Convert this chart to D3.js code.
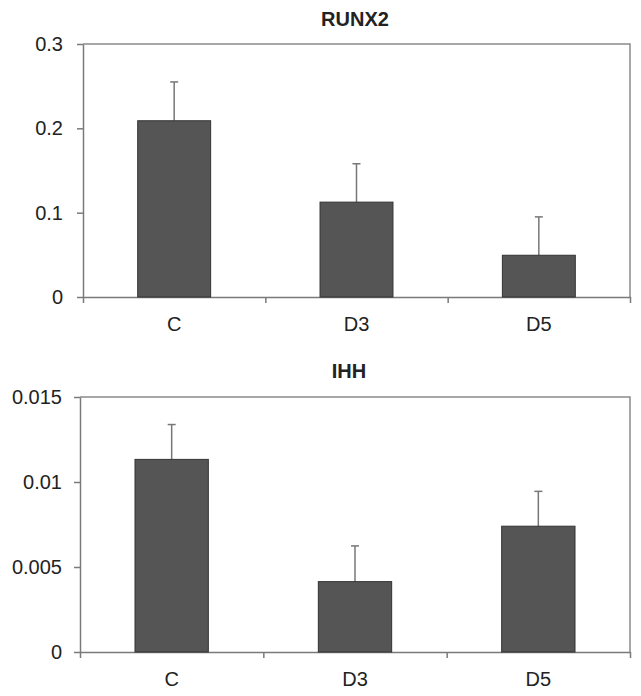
<!DOCTYPE html>
<html>
<head>
<meta charset="utf-8">
<script src="https://cdn.jsdelivr.net/npm/d3@7"></script>
<style>
	body { margin: 0; background: white; }
	text { font-family: 'Liberation Sans', Arial, sans-serif; fill: #222; }
</style>
</head>
<body>
<div id="chart"></div>
<script>
var categories = ['C', 'D3', 'D5'];

var runx2_values = [0.209, 0.1125, 0.0495];
var runx2_errors = [0.046, 0.0455, 0.0455];
var runx2_ticks = [0, 0.1, 0.2, 0.3];

var ihh_values = [0.01133, 0.00414, 0.0074];
var ihh_errors = [0.00205, 0.0021, 0.00205];
var ihh_ticks = [0, 0.005, 0.01, 0.015];

var svg = d3.select('#chart')
	.append('svg')
		.attr('width', 641)
		.attr('height', 696);

function draw_panel(opts) {
	var left = opts.left, right = 630, top = opts.top, bottom = opts.bottom;

	var g = svg.append('g');

	// title
	g.append('text')
		.attr('x', opts.title_x)
		.attr('y', opts.title_y)
		.attr('text-anchor', 'middle')
		.style('font-weight', 'bold')
		.style('font-size', '20px')
		.text(opts.title);

	var x = d3.scaleBand()
		.domain(categories)
		.range([left, right])
		.paddingInner(0.6)
		.paddingOuter(0.3);

	var y = d3.scaleLinear()
		.domain([0, opts.ticks[opts.ticks.length - 1]])
		.range([bottom, top]);

	// frame top and right
	g.append('path')
		.attr('d', 'M' + left + ',' + top + 'H' + right + 'V' + bottom)
		.attr('fill', 'none')
		.attr('stroke', '#8a8a8a')
		.attr('stroke-width', 1.5);

	// y axis
	var ya = g.append('g')
		.attr('transform', 'translate(' + left + ',0)')
		.call(d3.axisLeft(y)
			.tickValues(opts.ticks)
			.tickFormat(function(d) { return String(d); })
			.tickSize(6)
			.tickSizeOuter(0)
			.tickPadding(opts.pad));
	ya.select('.domain').attr('stroke', '#7a7a7a').attr('stroke-width', 1.5);
	ya.selectAll('.tick line').attr('stroke', '#7a7a7a').attr('stroke-width', 1.5);
	ya.selectAll('text').style('font-size', '20px').attr('fill', '#222');

	// x axis boundary ticks
	var xi = d3.scaleLinear().domain([0, categories.length]).range([left, right]);
	var xa = g.append('g')
		.attr('transform', 'translate(0,' + bottom + ')')
		.call(d3.axisBottom(xi)
			.tickValues(d3.range(categories.length + 1))
			.tickFormat('')
			.tickSize(6)
			.tickSizeOuter(0));
	xa.select('.domain').attr('stroke', '#7a7a7a').attr('stroke-width', 1.5);
	xa.selectAll('.tick line').attr('stroke', '#7a7a7a').attr('stroke-width', 1.5);

	// x labels
	var xl = g.append('g')
		.attr('transform', 'translate(0,' + bottom + ')')
		.call(d3.axisBottom(x).tickSize(0).tickPadding(20));
	xl.select('.domain').remove();
	xl.selectAll('text').style('font-size', '20px').attr('fill', '#222');

	var data = categories.map(function(c, i) {
		return {cat: c, value: opts.values[i], err: opts.errors[i]};
	});

	// error bars
	g.selectAll('.err')
		.data(data)
		.enter()
		.append('line')
			.attr('x1', function(d) { return x(d.cat) + x.bandwidth() / 2; })
			.attr('x2', function(d) { return x(d.cat) + x.bandwidth() / 2; })
			.attr('y1', function(d) { return y(d.value); })
			.attr('y2', function(d) { return y(d.value + d.err); })
			.attr('stroke', '#777')
			.attr('stroke-width', 1.5);
	g.selectAll('.cap')
		.data(data)
		.enter()
		.append('line')
			.attr('x1', function(d) { return x(d.cat) + x.bandwidth() / 2 - 4; })
			.attr('x2', function(d) { return x(d.cat) + x.bandwidth() / 2 + 4; })
			.attr('y1', function(d) { return y(d.value + d.err); })
			.attr('y2', function(d) { return y(d.value + d.err); })
			.attr('stroke', '#777')
			.attr('stroke-width', 1.5);

	// bars
	g.selectAll('.bar')
		.data(data)
		.enter()
		.append('rect')
			.attr('x', function(d) { return x(d.cat); })
			.attr('y', function(d) { return y(d.value); })
			.attr('width', x.bandwidth())
			.attr('height', function(d) { return bottom - y(d.value); })
			.attr('fill', '#555555')
			.attr('stroke', '#333')
			.attr('stroke-width', 1);
}

draw_panel({
	title: 'RUNX2', title_x: 355, title_y: 26,
	left: 83, top: 44, bottom: 297,
	values: runx2_values, errors: runx2_errors, ticks: runx2_ticks, pad: 14
});

draw_panel({
	title: 'IHH', title_x: 349, title_y: 378,
	left: 80, top: 397, bottom: 652,
	values: ihh_values, errors: ihh_errors, ticks: ihh_ticks, pad: 12
});
</script>
</body>
</html>
